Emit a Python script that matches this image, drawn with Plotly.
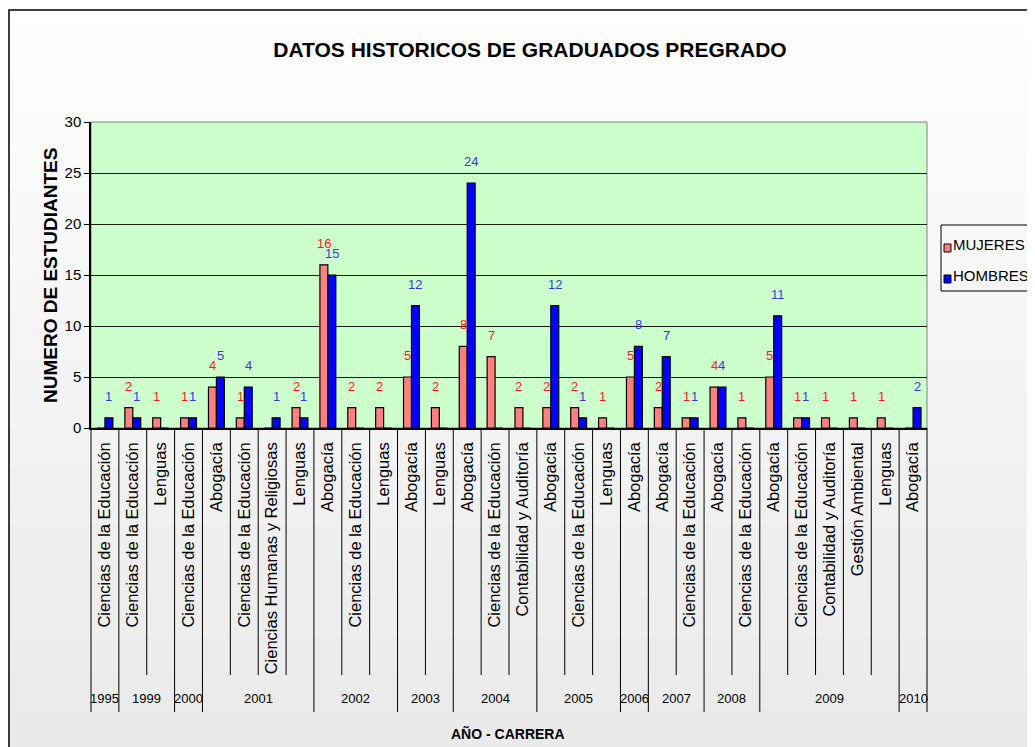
import plotly.graph_objects as go

# ---------------- data ----------------
years = ["1995", "1999", "1999", "2000", "2001", "2001", "2001", "2001",
         "2002", "2002", "2002", "2003", "2003", "2004", "2004", "2004",
         "2005", "2005", "2005", "2006", "2007", "2007", "2008", "2008",
         "2009", "2009", "2009", "2009", "2009", "2010"]
careers = ["Ciencias de la Educación", "Ciencias de la Educación", "Lenguas",
           "Ciencias de la Educación", "Abogacía", "Ciencias de la Educación",
           "Ciencias Humanas y Religiosas", "Lenguas", "Abogacía",
           "Ciencias de la Educación", "Lenguas", "Abogacía", "Lenguas",
           "Abogacía", "Ciencias de la Educación", "Contabilidad y Auditoría",
           "Abogacía", "Ciencias de la Educación", "Lenguas", "Abogacía",
           "Abogacía", "Ciencias de la Educación", "Abogacía",
           "Ciencias de la Educación", "Abogacía", "Ciencias de la Educación",
           "Contabilidad y Auditoría", "Gestión Ambiental", "Lenguas", "Abogacía"]
mujeres = [0, 2, 1, 1, 4, 1, 0, 2, 16, 2, 2, 5, 2, 8, 7, 2, 2, 2, 1, 5, 2, 1, 4, 1, 5, 1, 1, 1, 1, 0]
hombres = [1, 1, 0, 1, 5, 4, 1, 1, 15, 0, 0, 12, 0, 24, 0, 0, 12, 1, 0, 8, 7, 1, 4, 0, 11, 1, 0, 0, 0, 2]
y_ticks = [0, 5, 10, 15, 20, 25, 30]
series_names = ["MUJERES", "HOMBRES"]
series_colors = ["#FF8080", "#0000FF"]
label_colors = ["#FF1A1A", "#3A3ACC"]

# ---------------- layout constants ----------------
OFF = 8                       # page body margin
W, H = 1035 - OFF, 747 - OFF
L, T = 91 - OFF, 122 - OFF
PW, PH = 927 - 91, 428 - 122
R, B = W - L - PW, H - T - PH
SANS = "Liberation Sans, Arial, sans-serif"
BARGAP = 0.43

n = len(careers)
xs = list(range(n))
xrange_ = [-0.5, n - 0.5]


def px_x(p):
    return (p - 91) / PW


def px_y(p):
    return (428 - p) / PH


fig = go.Figure()
for vals, nm, col in zip([mujeres, hombres], series_names, series_colors):
    fig.add_trace(go.Bar(x=xs, y=vals, name=nm, showlegend=False,
                         marker=dict(color=col, line=dict(color="black", width=1.2))))

shapes = []
# gradient background bands (figure area)
nb = 40
for k in range(nb):
    g = int(255 - (255 - 234) * k / (nb - 1))
    shapes.append(dict(type="rect", xref="paper", yref="paper", layer="below",
                       x0=px_x(-5), x1=px_x(1045),
                       y0=px_y(k * 747 / nb), y1=px_y((k + 1) * 747 / nb + 1),
                       line=dict(width=0), fillcolor=f"rgb({g},{g},{g})"))
# plot area background
shapes.append(dict(type="rect", xref="paper", yref="paper", layer="below",
                   x0=0, x1=1, y0=0, y1=1, line=dict(color="#808080", width=1),
                   fillcolor="#CCFFCC"))
# outer chart border
shapes.append(dict(type="rect", xref="paper", yref="paper",
                   x0=px_x(9), x1=px_x(1060), y0=px_y(10), y1=px_y(770),
                   line=dict(color="black", width=1.5), fillcolor="rgba(0,0,0,0)"))

# category dividers
span = xrange_[1] - xrange_[0]
for k in range(n + 1):
    xb = (k - 0.5 - xrange_[0]) / span
    is_year = k == 0 or k == n or years[k] != years[k - 1]
    yend = px_y(712) if is_year else px_y(675)
    shapes.append(dict(type="line", xref="paper", yref="paper",
                       x0=xb, x1=xb, y0=0, y1=yend,
                       line=dict(color="black", width=1)))

annotations = []
# year labels
groups = []
start = 0
for k in range(1, n + 1):
    if k == n or years[k] != years[start]:
        groups.append((years[start], start, k - 1))
        start = k
for yr, a, b in groups:
    annotations.append(dict(x=(a + b) / 2, xref="x", y=px_y(698), yref="paper",
                            text=yr, showarrow=False, xanchor="center", yanchor="middle",
                            font=dict(family=SANS, size=13, color="black")))

# data labels
bw = (1 - BARGAP) / 2
for vals, sgn, lc in zip([mujeres, hombres], [-1, 1], label_colors):
    for i in range(n):
        if vals[i] > 0:
            annotations.append(dict(x=i + sgn * bw / 2, y=vals[i], xref="x", yref="y",
                                    text=str(vals[i]), showarrow=False,
                                    xanchor="center", yanchor="bottom", yshift=12,
                                    font=dict(family=SANS, size=13, color=lc)))

# axis titles
annotations.append(dict(x=px_x(50), y=px_y(276), xref="paper", yref="paper",
                        text="NUMERO DE ESTUDIANTES", textangle=-90, showarrow=False,
                        xanchor="center", yanchor="middle",
                        font=dict(family=SANS, size=19, color="black", weight="bold")))
annotations.append(dict(x=px_x(508), y=px_y(733), xref="paper", yref="paper",
                        text="AÑO - CARRERA", showarrow=False,
                        xanchor="center", yanchor="middle",
                        font=dict(family=SANS, size=14, color="black", weight="bold")))

# legend (box, swatches, labels)
shapes.append(dict(type="rect", xref="paper", yref="paper",
                   x0=px_x(941), x1=px_x(1060), y0=px_y(225), y1=px_y(291),
                   line=dict(color="black", width=1), fillcolor="rgba(0,0,0,0)"))
for j, (nm, col) in enumerate(zip(series_names, series_colors)):
    cy = 244 + 31 * j
    shapes.append(dict(type="rect", xref="paper", yref="paper",
                       x0=px_x(944), x1=px_x(951), y0=px_y(cy + 8), y1=px_y(cy),
                       line=dict(color="black", width=1), fillcolor=col))
    annotations.append(dict(x=px_x(951), y=px_y(cy), xref="paper", yref="paper",
                            text=nm, showarrow=False, xanchor="left", yanchor="middle",
                            font=dict(family=SANS, size=15, color="black")))

fig.update_layout(
    width=W, height=H,
    margin=dict(l=L, r=R, t=T, b=B, autoexpand=False),
    paper_bgcolor="white",
    plot_bgcolor="rgba(0,0,0,0)",
    barmode="group", bargap=BARGAP, bargroupgap=0,
    title=dict(text="<b>DATOS HISTORICOS DE GRADUADOS PREGRADO</b>",
               x=(530 - OFF) / W, xanchor="center", y=1 - (50 - OFF) / H, yanchor="middle",
               font=dict(family=SANS, size=21, color="black")),
    showlegend=False,
    shapes=shapes,
    annotations=annotations,
)
fig.update_xaxes(range=xrange_, tickvals=xs, ticktext=careers, tickangle=-90,
                 tickfont=dict(family=SANS, size=16.5, color="black"),
                 ticks="outside", ticklen=6, tickcolor="rgba(0,0,0,0)",
                 showline=True, linecolor="black", linewidth=1.5,
                 showgrid=False, zeroline=False, fixedrange=True)
fig.update_yaxes(range=[0, 30], tickvals=y_ticks, ticks="outside", ticklen=5,
                 tickcolor="black", tickfont=dict(family=SANS, size=15, color="black"),
                 showline=True, linecolor="black", linewidth=1.5,
                 showgrid=True, gridcolor="#1a1a1a", gridwidth=1, zeroline=False,
                 fixedrange=True)

fig.write_html("out.html")
